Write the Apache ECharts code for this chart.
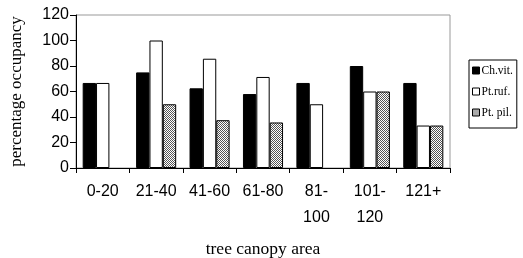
<!DOCTYPE html>
<html>
<head>
<meta charset="utf-8">
<script src="https://cdn.jsdelivr.net/npm/echarts@6/dist/echarts.min.js"></script>
<style>
  html, body { margin: 0; padding: 0; background: #fff; }
  #chart { width: 523px; height: 258px; }
</style>
</head>
<body>
<div id="chart"></div>
<script>
var categories = ["0-20", "21-40", "41-60", "61-80", "81-\n100", "101-\n120", "121+"];
var chVit = [66.7, 75, 62.5, 58, 66.7, 80, 66.7];
var ptRuf = [66.7, 100, 85.7, 71.4, 50, 60, 33.3];
var ptPil = [null, 50, 37.5, 35.7, null, 60, 33.3];
var yTicks = [0, 20, 40, 60, 80, 100, 120];

// small checker pattern for the Pt. pil. bars
var pat = document.createElement("canvas");
pat.width = 2;
pat.height = 2;
var pctx = pat.getContext("2d");
pctx.fillStyle = "#fff";
pctx.fillRect(0, 0, 2, 2);
pctx.fillStyle = "#555";
pctx.fillRect(0, 0, 1, 1);
pctx.fillRect(1, 1, 1, 1);

var chart = echarts.init(document.getElementById("chart"));
var option = {
  animation: false,
  grid: {
    left: 76,
    right: 73,
    top: 15,
    bottom: 90,
    containLabel: false,
    outerBoundsMode: "none",
    show: true,
    borderColor: "#999",
    borderWidth: 1
  },
  legend: {
    orient: "vertical",
    left: 469,
    top: 60,
    padding: [4, 4, 9, 3],
    itemGap: 8,
    icon: "rect",
    itemWidth: 7,
    itemHeight: 7,
    borderColor: "#000",
    borderWidth: 1,
    textStyle: { fontFamily: "Liberation Serif", fontSize: 11.5, lineHeight: 13, color: "#000", padding: [0, 0, 0, -3] },
    data: [
      { name: "Ch.vit.", itemStyle: { borderColor: "#000", borderWidth: 1 } },
      { name: "Pt.ruf.", itemStyle: { borderColor: "#000", borderWidth: 1 } },
      { name: "Pt. pil.", itemStyle: { borderColor: "#000", borderWidth: 1 } }
    ]
  },
  xAxis: {
    type: "category",
    data: categories,
    name: "tree canopy area",
    nameLocation: "middle",
    nameGap: 72,
    nameTextStyle: { fontFamily: "Liberation Serif", fontSize: 17.5, color: "#000" },
    axisLine: { lineStyle: { color: "#000" } },
    axisTick: { show: true, length: 5, lineStyle: { color: "#000" } },
    axisLabel: {
      fontFamily: "Liberation Sans",
      fontSize: 16,
      color: "#000",
      lineHeight: 26,
      margin: 11,
      interval: 0
    }
  },
  yAxis: {
    type: "value",
    min: yTicks[0],
    max: yTicks[yTicks.length - 1],
    interval: 20,
    name: "percentage occupancy",
    nameLocation: "middle",
    nameGap: 51,
    nameTextStyle: { fontFamily: "Liberation Serif", fontSize: 17, color: "#000" },
    axisLine: { show: true, lineStyle: { color: "#000" } },
    axisTick: { show: true, length: 6, lineStyle: { color: "#000" } },
    axisLabel: { fontFamily: "Liberation Sans", fontSize: 16, color: "#000", margin: 7 },
    splitLine: { show: false }
  },
  series: [
    {
      name: "Ch.vit.",
      type: "bar",
      barGap: "0%",
      barCategoryGap: "25%",
      itemStyle: { color: "#000", borderColor: "#000", borderWidth: 1 },
      data: chVit
    },
    {
      name: "Pt.ruf.",
      type: "bar",
      itemStyle: { color: "#fff", borderColor: "#000", borderWidth: 1 },
      data: ptRuf
    },
    {
      name: "Pt. pil.",
      type: "bar",
      itemStyle: { color: { image: pat, repeat: "repeat" }, borderColor: "#000", borderWidth: 1 },
      data: ptPil
    }
  ]
};
chart.setOption(option);
</script>
</body>
</html>
